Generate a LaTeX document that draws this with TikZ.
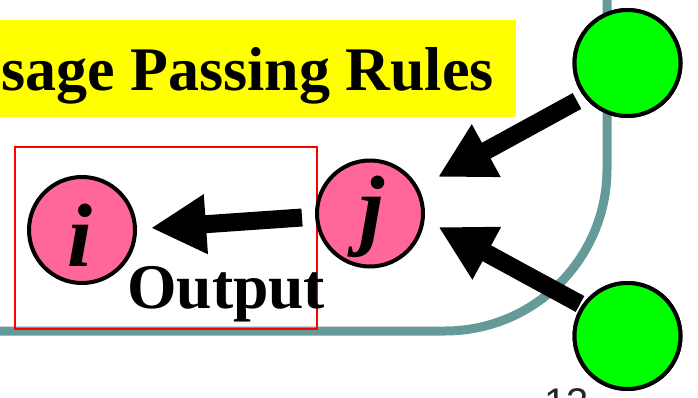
\documentclass[tikz,border=0pt]{standalone}
\usepackage{fontspec}
\setmainfont{Liberation Serif}
\newfontfamily\sansf{Liberation Sans}
\usetikzlibrary{arrows.meta}
\definecolor{tealline}{RGB}{102,153,153}
\definecolor{pinkfill}{RGB}{255,102,153}
\definecolor{greenfill}{RGB}{0,255,0}
\definecolor{titlebar}{RGB}{255,255,0}
\begin{document}
\begin{tikzpicture}[x=1pt,y=-1pt,
  ball/.style={circle,draw=black,line width=4pt,minimum size=106pt,inner sep=0pt},
  fat/.style={line width=18pt,-{Triangle[length=55pt,width=56pt]}},
  bigtext/.style={inner sep=0pt,font=\fontsize{62}{70}\selectfont\bfseries},
  letter/.style={inner sep=0pt,anchor=base,font=\fontsize{90}{100}\selectfont\bfseries\itshape}]
\useasboundingbox (0,0) rectangle (698,398);
\begin{scope}
\clip (0,0) rectangle (698,398);
% title bar
\fill[titlebar] (-5,20) rectangle (515.5,116.7);
\node[bigtext,anchor=base east] (title) at (494,90.7) {Message Passing Rules};
% teal boundary
\draw[tealline,line width=9pt,rounded corners=162pt] (-10,331) -- (607,331) -- (607,-10);
% red frame
\draw[red,line width=1.3pt] (15,147) rectangle (317,329);
% nodes
\node[ball,fill=pinkfill] (i) at (82,230) {};
\node[ball,fill=pinkfill] (j) at (370,213.5) {};
\node[ball,fill=greenfill] (g1) at (627.5,63) {};
\node[ball,fill=greenfill] (g2) at (627.5,336) {};
% arrow ends
\coordinate (a1s) at (302,217.5);
\coordinate (a1e) at (151,228);
\coordinate (a2s) at (577,101);
\coordinate (a2e) at (438,177);
\coordinate (a3s) at (580,304);
\coordinate (a3e) at (438.5,227);
\draw[fat] (a1s) -- (a1e);
\draw[fat] (a2s) -- (a2e);
\draw[fat] (a3s) -- (a3e);
% redraw circles on top of arrow tails
\node[ball,fill=greenfill] at (g1) {};
\node[ball,fill=greenfill] at (g2) {};
% letters
\node[letter] (li) at (80,266) {i};
\node[letter] (lj) at (372,238) {j};
% output label
\node[bigtext,anchor=base west,font=\fontsize{63.6}{70}\selectfont\bfseries] (out) at (127,308) {Output};
% page number
\node[anchor=base west,inner sep=0pt,font=\sansf\fontsize{40}{48}\selectfont,text=black!85] (pg) at (544,416) {13};
\end{scope}
\end{tikzpicture}
\end{document}
